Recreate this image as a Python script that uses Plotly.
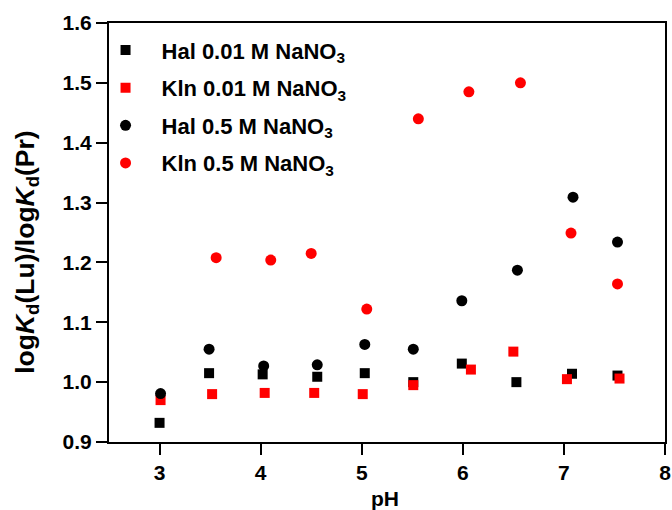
import plotly.graph_objects as go

# Data
ph_hal_001 = [3.0, 3.49, 4.02, 4.56, 5.03, 5.51, 5.99, 6.53, 7.08, 7.53]
r_hal_001 = [0.932, 1.015, 1.013, 1.009, 1.015, 1.000, 1.031, 1.000, 1.014, 1.011]

ph_kln_001 = [3.01, 3.52, 4.04, 4.53, 5.01, 5.51, 6.08, 6.50, 7.03, 7.55]
r_kln_001 = [0.970, 0.980, 0.982, 0.982, 0.980, 0.995, 1.021, 1.051, 1.005, 1.006]

ph_hal_05 = [3.01, 3.49, 4.03, 4.56, 5.03, 5.51, 5.99, 6.54, 7.09, 7.53]
r_hal_05 = [0.981, 1.055, 1.027, 1.029, 1.063, 1.055, 1.136, 1.187, 1.309, 1.234]

ph_kln_05 = [3.56, 4.10, 4.50, 5.05, 5.56, 6.06, 6.57, 7.07, 7.53]
r_kln_05 = [1.208, 1.204, 1.215, 1.122, 1.440, 1.485, 1.500, 1.249, 1.164]

x_ticks = [3, 4, 5, 6, 7, 8]
y_ticks = [0.9, 1.0, 1.1, 1.2, 1.3, 1.4, 1.5, 1.6]

FONT = "Liberation Sans, Arial, sans-serif"

fig = go.Figure()
series = [
    (ph_hal_001, r_hal_001, "Hal 0.01 M NaNO<sub>3</sub>", "square", "black", 10),
    (ph_kln_001, r_kln_001, "Kln 0.01 M NaNO<sub>3</sub>", "square", "#ff0000", 10),
    (ph_hal_05, r_hal_05, "Hal 0.5 M NaNO<sub>3</sub>", "circle", "black", 11),
    (ph_kln_05, r_kln_05, "Kln 0.5 M NaNO<sub>3</sub>", "circle", "#ff0000", 11),
]
for i, (x, y, name, sym, col, sz) in enumerate(series):
    fig.add_trace(go.Scatter(
        x=x, y=y, mode="markers", name="<b>" + name + "</b>",
        legendgroup=f"g{i}",
        marker=dict(symbol=sym, color=col, size=sz, line=dict(width=0)),
    ))

axis_common = dict(
    showline=True, linecolor="black", linewidth=2, mirror=True,
    ticks="outside", ticklen=11, tickwidth=2, tickcolor="black",
    showgrid=False, zeroline=False, automargin=False,
    tickfont=dict(family=FONT, size=21, color="black", weight="bold"),
)

fig.update_xaxes(range=[2.5, 8], tickvals=x_ticks, ticktext=[str(v) for v in x_ticks],
                 **axis_common)
fig.update_yaxes(range=[0.9, 1.6], tickvals=y_ticks, ticktext=[f"{v:.1f}" for v in y_ticks],
                 **axis_common)

# axis titles
fig.add_annotation(
    text="<b>pH</b>", xref="paper", yref="paper", x=0.497, y=-0.134,
    xanchor="center", yanchor="middle", showarrow=False,
    font=dict(family=FONT, size=21, color="black"),
)
fig.add_annotation(
    text="<b>log<i>K</i><sub>d</sub>(Lu)/log<i>K</i><sub>d</sub>(Pr)</b>",
    xref="paper", yref="paper", x=-0.149, y=0.452, xanchor="center", yanchor="middle",
    textangle=-90, showarrow=False,
    font=dict(family=FONT, size=26.5, color="black"),
)

fig.update_layout(
    width=672, height=510,
    margin=dict(l=109, r=7, t=23, b=68),
    plot_bgcolor="white", paper_bgcolor="white",
    font=dict(family=FONT, color="black"),
    legend=dict(
        x=-0.035, y=0.985, xanchor="left", yanchor="top",
        bgcolor="rgba(0,0,0,0)", borderwidth=0,
        itemwidth=62, tracegroupgap=6,
        font=dict(family=FONT, size=22, color="black"),
    ),
)

# remove the default 8px page margin so the figure fills the window exactly
fig.write_html(
    "out.html",
    config={"displayModeBar": False},
    post_script="document.body.style.margin='0';document.body.style.overflow='hidden';",
)
